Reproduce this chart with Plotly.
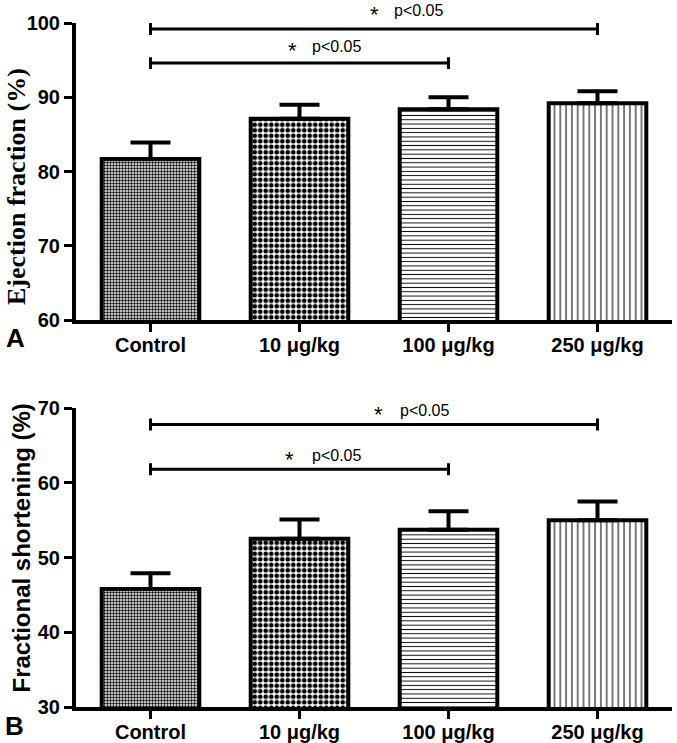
import plotly.graph_objects as go

# ---------------- data ----------------
categories = ["Control", "10 μg/kg", "100 μg/kg", "250 μg/kg"]
x_pos = [0, 1, 2, 3]

ef_mean = [81.7, 87.1, 88.4, 89.2]
ef_sem = [2.2, 1.9, 1.6, 1.6]

fs_mean = [45.8, 52.5, 53.7, 55.0]
fs_sem = [2.1, 2.6, 2.5, 2.5]

# significance brackets: (from category, to category, height)
ef_brackets = [(0, 3, 99.2), (0, 2, 94.6)]
fs_brackets = [(0, 3, 67.8), (0, 2, 61.8)]
sig_label = "p<0.05"

ef_ticks = [60, 70, 80, 90, 100]
fs_ticks = [30, 40, 50, 60, 70]
ef_range = [60, 100]
fs_range = [30, 70]

# pattern styles per group
shapes_ = [".", ".", "-", "|"]
sizes_ = [3, 5.5, 4.3, 5.8]
solid_ = [0.5, 0.55, 0.22, 0.18]

W, H = 677, 743
xd = [76 / W, 672 / W]
yd_a = [1 - 320 / H, 1 - 23 / H]
yd_b = [1 - 707 / H, 1 - 408 / H]

SANS = "Liberation Sans, Arial, sans-serif"
SERIF = "Liberation Serif, Times New Roman, serif"

fig = go.Figure()

def add_panel(means, sems, brackets, xa, ya, cap_h):
    for i in range(len(categories)):
        fig.add_trace(go.Bar(
            x=[x_pos[i]], y=[means[i]], width=0.655,
            marker=dict(color="white",
                        line=dict(color="black", width=4),
                        pattern=dict(shape=shapes_[i], size=sizes_[i], solidity=solid_[i],
                                     fgcolor="black", bgcolor="white", fgopacity=1)),
            error_y=dict(type="data", symmetric=False, array=[sems[i]], arrayminus=[0],
                         color="black", thickness=4, width=20),
            xaxis=xa, yaxis=ya, showlegend=False, hoverinfo="skip"))
    for (a, b, h) in brackets:
        fig.add_trace(go.Scatter(
            x=[x_pos[a], x_pos[a], x_pos[a], x_pos[b], x_pos[b], x_pos[b]],
            y=[h - cap_h, h + cap_h, h, h, h + cap_h, h - cap_h],
            mode="lines", line=dict(color="black", width=3),
            xaxis=xa, yaxis=ya, showlegend=False, hoverinfo="skip", cliponaxis=False))

add_panel(ef_mean, ef_sem, ef_brackets, "x", "y", 0.8)
add_panel(fs_mean, fs_sem, fs_brackets, "x2", "y2", 0.8)

tickfont = dict(family=SANS, size=20, color="black", weight="bold")
xcommon = dict(range=[-0.5, 3.5], tickvals=x_pos, ticktext=categories,
               showline=True, linecolor="black", linewidth=4,
               ticks="outside", ticklen=8, tickwidth=3, tickcolor="black",
               showgrid=False, zeroline=False, tickfont=tickfont, fixedrange=True,
               automargin=False, ticklabelstandoff=-4)
ycommon = dict(showline=True, linecolor="black", linewidth=4,
               ticks="outside", ticklen=8, tickwidth=3, tickcolor="black",
               showgrid=False, zeroline=False, tickfont=tickfont, fixedrange=True,
               automargin=False)

fig.update_layout(
    template="none",
    width=W, height=H,
    margin=dict(l=0, r=0, t=0, b=0, pad=0, autoexpand=False),
    paper_bgcolor="white", plot_bgcolor="white",
    font=dict(family=SANS, color="black"),
    bargap=0,
    xaxis=dict(domain=xd, anchor="y", **xcommon),
    yaxis=dict(domain=yd_a, anchor="x", range=ef_range, tickvals=ef_ticks, **ycommon),
    xaxis2=dict(domain=xd, anchor="y2", **xcommon),
    yaxis2=dict(domain=yd_b, anchor="x2", range=fs_range, tickvals=fs_ticks, **ycommon),
)

def to_paper(v, rng, dom):
    return dom[0] + (v - rng[0]) / (rng[1] - rng[0]) * (dom[1] - dom[0])

ann = []
def sig_text(xa, star_x, text_x, y, rng, dom):
    yp = to_paper(y, rng, dom)
    ann.append(dict(x=star_x, y=yp, xref=xa, yref="paper", text="*", showarrow=False,
                    font=dict(family=SANS, size=22, color="black"),
                    xanchor="center", yanchor="middle", yshift=-4))
    ann.append(dict(x=text_x, y=yp, xref=xa, yref="paper", text=sig_label, showarrow=False,
                    font=dict(family=SANS, size=16, color="black"),
                    xanchor="left", yanchor="middle"))

sig_text("x", 1.50, 1.62, 101.75, ef_range, yd_a)
sig_text("x", 0.95, 1.07, 96.9, ef_range, yd_a)
sig_text("x2", 1.53, 1.66, 69.6, fs_range, yd_b)
sig_text("x2", 0.93, 1.07, 63.7, fs_range, yd_b)

# axis titles
ann.append(dict(x=16 / W, y=1 - 187 / H, xref="paper", yref="paper",
                text="Ejection fraction (%)", textangle=-90, showarrow=False,
                font=dict(family=SERIF, size=26, color="black", weight="bold"),
                xanchor="center", yanchor="middle"))
ann.append(dict(x=21 / W, y=1 - 548.5 / H, xref="paper", yref="paper",
                text="Fractional shortening (%)", textangle=-90, showarrow=False,
                font=dict(family=SANS, size=24, color="black", weight="bold"),
                xanchor="center", yanchor="middle"))
# panel letters
ann.append(dict(x=15 / W, y=1 - 338 / H, xref="paper", yref="paper", text="A",
                showarrow=False, font=dict(family=SANS, size=26, color="black", weight="bold"),
                xanchor="center", yanchor="middle"))
ann.append(dict(x=14 / W, y=1 - 726 / H, xref="paper", yref="paper", text="B",
                showarrow=False, font=dict(family=SANS, size=26, color="black", weight="bold"),
                xanchor="center", yanchor="middle"))

fig.update_layout(annotations=ann)

fig.write_html("out.html", config={"displayModeBar": False, "staticPlot": True})

# remove the default page margin so the figure sits at the window's top-left corner
with open("out.html", "r", encoding="utf-8") as f:
    html = f.read()
html = html.replace("<head>", "<head><style>html,body{margin:0;padding:0;overflow:hidden;}</style>", 1)
with open("out.html", "w", encoding="utf-8") as f:
    f.write(html)
